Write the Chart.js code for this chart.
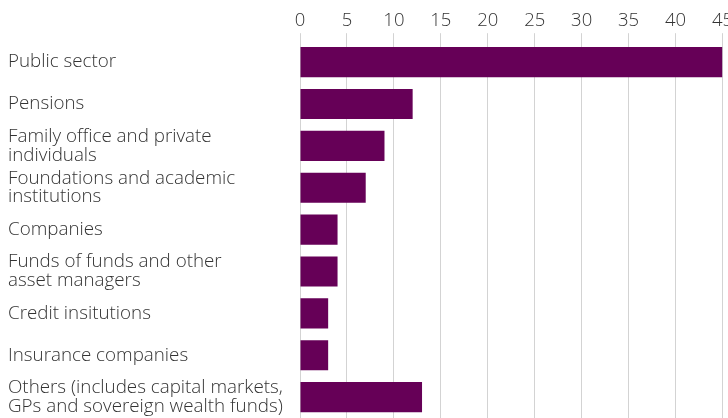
<!DOCTYPE html>
<html>
<head>
<meta charset="utf-8">
<script src="https://cdn.jsdelivr.net/npm/chart.js@4/dist/chart.umd.min.js"></script>
<style>
  html, body { margin: 0; padding: 0; background: #fff; overflow: hidden; }
  #wrap { position: relative; width: 734px; height: 418px; }
</style>
</head>
<body>
<div id="wrap"><canvas id="investorChart"></canvas></div>
<script>
// Investor categories (multi-line labels are arrays)
const categories = [
    'Public sector',
    'Pensions',
    ['Family office and private', 'individuals'],
    ['Foundations and academic', 'institutions'],
    'Companies',
    ['Funds of funds and other', 'asset managers'],
    'Credit insitutions',
    'Insurance companies',
    ['Others (includes capital markets,', 'GPs and sovereign wealth funds)']
];

// Share of commitments, %
const shares = [45, 12, 9, 7, 4, 4, 3, 3, 13];

const axisMin = 0;
const axisMax = 45;
const axisStep = 5;

const barColor = '#660057';
const gridColor = '#d3d3d3';
const textColor = '#333333';
const fontFamily = "'Open Sans', sans-serif";

document.addEventListener('DOMContentLoaded', () => {
    const ctx = document.getElementById('investorChart');
    new Chart(ctx, {
        type: 'bar',
        data: {
            labels: categories,
            datasets: [{
                data: shares,
                backgroundColor: barColor,
                borderWidth: 0,
                barPercentage: 0.72,
                categoryPercentage: 1
            }]
        },
        options: {
            indexAxis: 'y',
            responsive: true,
            maintainAspectRatio: false,
            animation: false,
            layout: { padding: { left: 8, top: 9, right: 0, bottom: 0 } },
            plugins: {
                legend: { display: false },
                tooltip: { enabled: false }
            },
            scales: {
                x: {
                    position: 'top',
                    min: axisMin,
                    max: axisMax,
                    ticks: {
                        stepSize: axisStep,
                        color: textColor,
                        padding: 1,
                        font: { family: fontFamily, size: 18.5, weight: 300 }
                    },
                    grid: {
                        color: gridColor,
                        lineWidth: 1,
                        tickLength: 8,
                        drawTicks: true
                    },
                    border: { display: false }
                },
                y: {
                    // fixed label column, no extra room for the outer labels
                    afterFit: (scale) => {
                        scale.width = 292;
                        scale.paddingTop = 0;
                        scale.paddingBottom = 0;
                    },
                    ticks: {
                        autoSkip: false,
                        crossAlign: 'far',
                        color: textColor,
                        padding: 8,
                        font: { family: fontFamily, size: 18.8, weight: 300, lineHeight: 1.0 }
                    },
                    grid: { display: false },
                    border: { display: false }
                }
            }
        }
    });
});
</script>
</body>
</html>
